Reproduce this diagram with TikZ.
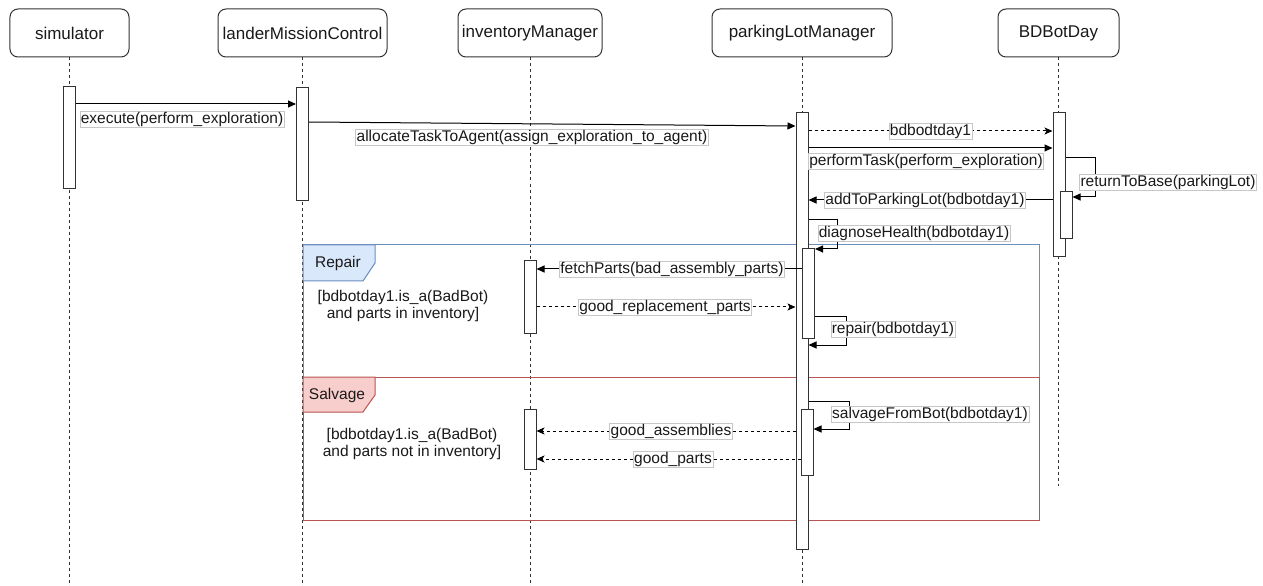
\documentclass[tikz,border=0pt]{standalone}
\usepackage{fontspec}
\setmainfont{Liberation Sans}
\usetikzlibrary{arrows.meta}
\definecolor{repline}{HTML}{6C8EBF}
\definecolor{repfill}{HTML}{DAE8FC}
\definecolor{salline}{HTML}{B85450}
\definecolor{salfill}{HTML}{F8CECC}
\newcommand\hdrfont{\fontsize{17bp}{20bp}\selectfont}
\newcommand\msgfont{\fontsize{15.5bp}{17bp}\selectfont}
\tikzset{
  hdr/.style={draw=black!80, line width=1bp, rounded corners=8bp, minimum height=48bp, font=\hdrfont, inner sep=0pt, text=black!90},
  life/.style={draw=black!80, line width=1bp, dash pattern=on 3bp off 3bp},
  act/.style={draw=black!80, fill=white, line width=1bp, minimum width=12bp, inner sep=0pt},
  msg/.style={draw=black, line width=1bp, -{Triangle[length=8bp,width=7bp]}},
  ret/.style={draw=black, line width=1bp, dash pattern=on 3bp off 3bp, -{Stealth[length=8bp,width=7bp,inset=2bp]}},
  lbl/.style={fill=white, draw=black!22, line width=0.5bp, inner sep=1bp, font=\msgfont, text=black!90},
  guard/.style={font=\msgfont, align=center, inner sep=0pt, text=black!90},
  framelbl/.style={font=\msgfont, inner sep=0pt, text=black!90},
}
\begin{document}
\begin{tikzpicture}[x=1bp,y=-1bp]
\useasboundingbox (0,0) rectangle (1263,586);
% headers
\node[hdr, minimum width=119bp] (sim) at (69.5,33) {simulator};
\node[hdr, minimum width=169bp] (lmc) at (302.5,33) {landerMissionControl};
\node[hdr, minimum width=144bp] (inv) at (530,33) {inventoryManager};
\node[hdr, minimum width=180bp] (plm) at (802,33) {parkingLotManager};
\node[hdr, minimum width=121bp] (bot) at (1058.5,33) {BDBotDay};
% lifeline ends
\coordinate (simEnd) at (69.5,586);
\coordinate (lmcEnd) at (302.5,586);
\coordinate (invEnd) at (530,586);
\coordinate (plmEnd) at (802,586);
\coordinate (botEnd) at (1058.5,486);
\draw[life] (sim.south) -- (simEnd);
\draw[life] (lmc.south) -- (lmcEnd);
\draw[life] (inv.south) -- (invEnd);
\draw[life] (plm.south) -- (plmEnd);
\draw[life] (bot.south) -- (botEnd);
% frames
\draw[repline, line width=1bp] (303,245) rectangle (1039,377);
\filldraw[fill=repfill, draw=repline, line width=1bp] (303,245) -- (375,245) -- (375,263) -- (363,281) -- (303,281) -- cycle;
\node[framelbl] (repairLbl) at (338,263) {Repair};
\node[guard] (repairGuard) at (403,306) {[bdbotday1.is\_a(BadBot)\\and parts in inventory]};
\draw[salline, line width=1bp] (303,377) rectangle (1039,520);
\filldraw[fill=salfill, draw=salline, line width=1bp] (303,377) -- (375,377) -- (375,395) -- (363,412) -- (303,412) -- cycle;
\node[framelbl] (salvageLbl) at (337,395) {Salvage};
\node[guard] (salvageGuard) at (412,444) {[bdbotday1.is\_a(BadBot)\\and parts not in inventory]};
% activations
\node[act, minimum height=102bp] (simA) at (69.5,138) {};
\node[act, minimum height=113bp] (lmcA) at (302.5,144.5) {};
\node[act, minimum height=436bp] (plmA) at (802,331) {};
\node[act, minimum height=143bp] (botA) at (1059,184.5) {};
\node[act, minimum height=47bp] (botB) at (1066,215.5) {};
\node[act, minimum height=89bp] (plmB) at (808.5,293.5) {};
\node[act, minimum height=66bp] (plmC) at (807,442) {};
\node[act, minimum height=72bp] (invA) at (530,297) {};
\node[act, minimum height=60bp] (invB) at (530,439) {};
% messages
\draw[msg] (simA.east |- 0,104) -- (lmcA.west |- 0,104);
\node[lbl] (m1) at (182,119) {execute(perform\_exploration)};
\draw[msg] (lmcA.east |- 0,122) -- (plmA.west |- 0,126);
\node[lbl] (m2) at (532,137) {allocateTaskToAgent(assign\_exploration\_to\_agent)};
\draw[ret] (plmA.east |- 0,131) -- (botA.west |- 0,131);
\node[lbl] (m3) at (930.5,131) {bdbodtday1};
\draw[msg] (plmA.east |- 0,148) -- (botA.west |- 0,148);
\node[lbl] (m4) at (926,161) {performTask(perform\_exploration)};
\coordinate (r1) at (1095,158);
\coordinate (r2) at (1095,197);
\draw[msg] (botA.east |- 0,158) -- (r1) -- (r2) -- (botB.east |- 0,197);
\node[lbl] (m5) at (1168,182) {returnToBase(parkingLot)};
\draw[msg] (botA.west |- 0,200) -- (plmA.east |- 0,200);
\node[lbl] (m6) at (925,200) {addToParkingLot(bdbotday1)};
\coordinate (d1) at (837,220);
\coordinate (d2) at (837,249);
\draw[msg] (plmA.east |- 0,220) -- (d1) -- (d2) -- (plmB.east |- 0,249);
\node[lbl] (m7) at (914,233) {diagnoseHealth(bdbotday1)};
\draw[msg] (plmB.west |- 0,269) -- (invA.east |- 0,269);
\node[lbl] (m8) at (672,269) {fetchParts(bad\_assembly\_parts)};
\draw[ret] (invA.east |- 0,307) -- (plmA.west |- 0,307);
\node[lbl] (m9) at (665,307) {good\_replacement\_parts};
\coordinate (p1) at (846,317);
\coordinate (p2) at (846,345);
\draw[msg] (plmB.east |- 0,317) -- (p1) -- (p2) -- (plmA.east |- 0,345);
\node[lbl] (m10) at (893,329) {repair(bdbotday1)};
\coordinate (s1) at (849,401);
\coordinate (s2) at (849,429);
\draw[msg] (plmA.east |- 0,401) -- (s1) -- (s2) -- (plmC.east |- 0,429);
\node[lbl] (m11) at (930,414) {salvageFromBot(bdbotday1)};
\draw[ret] (plmA.west |- 0,431) -- (invB.east |- 0,431);
\node[lbl] (m12) at (671,431) {good\_assemblies};
\draw[ret] (plmC.west |- 0,459) -- (invB.east |- 0,459);
\node[lbl] (m13) at (673,459) {good\_parts};
\end{tikzpicture}
\end{document}
